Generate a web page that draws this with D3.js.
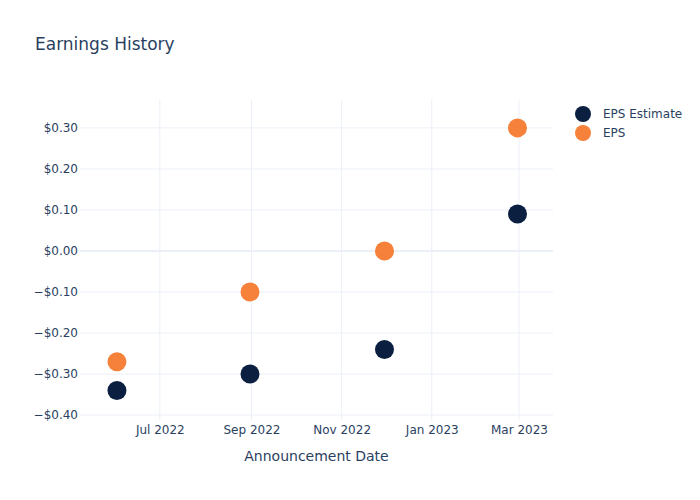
<!DOCTYPE html>
<html><head><meta charset="utf-8">
<script src="https://cdn.jsdelivr.net/npm/d3@7"></script>
<style>body{margin:0;background:#fff}svg{font-family:"DejaVu Sans",Verdana,sans-serif}</style>
</head><body>
<svg id="chart" width="700" height="500"></svg>
<script>
const dates = ["2022-06-02","2022-08-31","2022-11-30","2023-02-28"];
const epsEstimate = [-0.34,-0.30,-0.24,0.09];
const eps = [-0.27,-0.10,0.00,0.30];
const yTicks = [-0.40,-0.30,-0.20,-0.10,0.00,0.10,0.20,0.30];
const xTickDates = ["2022-07-01","2022-09-01","2022-11-01","2023-01-01","2023-03-01"];
const seriesNames = ["EPS Estimate","EPS"];
const colors = ["#0b1f41","#f5813a"];

const parse = d3.utcParse("%Y-%m-%d");
const svg = d3.select("#chart");
const L=80,R=553,T=100,B=420;
const x = d3.scaleUtc().domain([parse("2022-05-08"),parse("2023-03-24")]).range([L,R]);
const y = d3.scaleLinear().domain([-0.412,0.368]).range([B,T]);
const txt="#2a3f5f", grid="#ebf0f8";
const ff="'DejaVu Sans',Verdana,sans-serif";

// grid
const xt = xTickDates.map(parse);
svg.append("g").selectAll("line").data(xt).join("line")
  .attr("x1",d=>x(d)).attr("x2",d=>x(d)).attr("y1",T).attr("y2",B)
  .attr("stroke",grid).attr("stroke-width",1);
svg.append("g").selectAll("line").data(yTicks).join("line")
  .attr("x1",L).attr("x2",R).attr("y1",d=>y(d)).attr("y2",d=>y(d))
  .attr("stroke",grid).attr("stroke-width",d=>d===0?2:1);

// axes via d3
const fmt = d=>{const s="$"+Math.abs(d).toFixed(2);return d<0?"\u2212"+s:s;};
const ya = svg.append("g").attr("transform",`translate(${L},0)`)
  .call(d3.axisLeft(y).tickValues(yTicks).tickFormat(fmt).tickSize(0).tickPadding(2));
ya.select(".domain").remove();
ya.selectAll("text").attr("fill",txt).attr("font-size",12).style("font-family",ff);

const xa = svg.append("g").attr("transform",`translate(0,${B})`)
  .call(d3.axisBottom(x).tickValues(xt).tickFormat(d3.utcFormat("%b %Y")).tickSize(0).tickPadding(5));
xa.select(".domain").remove();
xa.selectAll("text").attr("fill",txt).attr("font-size",12).style("font-family",ff);

// points
const series=[epsEstimate,eps];
series.forEach((vals,i)=>{
  svg.append("g").selectAll("circle").data(vals).join("circle")
    .attr("cx",(d,j)=>x(parse(dates[j]))).attr("cy",d=>y(d)).attr("r",9.5)
    .attr("fill",colors[i]);
});

// title
svg.append("text").attr("x",35).attr("y",50).text("Earnings History")
  .attr("fill",txt).attr("font-size",17);
svg.append("text").attr("x",(L+R)/2).attr("y",461).attr("text-anchor","middle")
  .text("Announcement Date").attr("fill",txt).attr("font-size",14);

// legend
const lg = svg.append("g");
seriesNames.forEach((n,i)=>{
  lg.append("circle").attr("cx",583).attr("cy",114+i*19).attr("r",8).attr("fill",colors[i]);
  lg.append("text").attr("x",603).attr("y",118+i*19).text(n).attr("fill",txt).attr("font-size",12);
});
</script>
</body></html>
